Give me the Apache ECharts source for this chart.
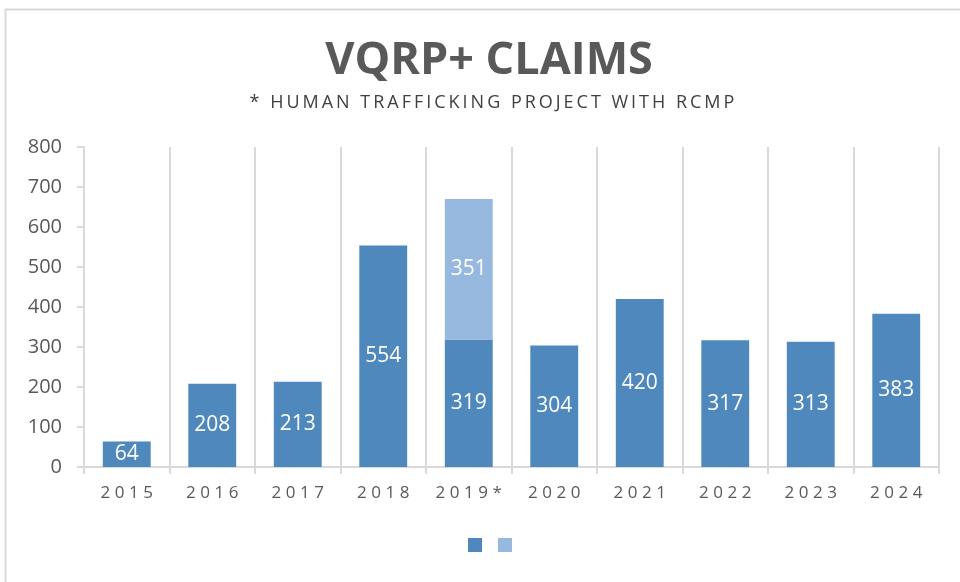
<!DOCTYPE html>
<html>
<head>
<meta charset="utf-8">
<script src="https://cdn.jsdelivr.net/npm/echarts@6/dist/echarts.min.js"></script>
<style>
html,body{margin:0;padding:0;background:#fff;}
#chart{width:960px;height:582px;}
</style>
</head>
<body>
<div id="chart"></div>
<script>
// data
var years = ["2015", "2016", "2017", "2018", "2019*", "2020", "2021", "2022", "2023", "2024"];
var claims = [64, 208, 213, 554, 319, 304, 420, 317, 313, 383];
var trafficking = ["-", "-", "-", "-", 351, "-", "-", "-", "-", "-"];
var yTicks = [0, 100, 200, 300, 400, 500, 600, 700, 800];

function spaced(s, sep) {
    return s.split("").join(sep);
}

var chart = echarts.init(document.getElementById("chart"));
var option = {
    animation: false,
    graphic: [{
        type: "polyline",
        shape: { points: [[5.5, 582], [5.5, 9.5], [960, 9.5]] },
        style: { stroke: "#d9d9d9", lineWidth: 2, fill: null }
    }],
    title: [{
        text: "VQRP+ CLAIMS",
        left: 484,
        top: 34,
        textAlign: "center",
        textStyle: { fontFamily: "Open Sans", fontWeight: "bold", fontSize: 45, color: "#595959" }
    }, {
        text: spaced("* HUMAN TRAFFICKING PROJECT WITH RCMP", "\u2009"),
        left: 487,
        top: 89,
        textAlign: "center",
        textStyle: { fontFamily: "Open Sans", fontWeight: "normal", fontSize: 18, color: "#404040" }
    }],
    legend: {
        bottom: 25,
        left: 463,
        icon: "rect",
        itemWidth: 14,
        itemHeight: 14,
        itemGap: 16,
        formatter: function () { return ""; },
        data: ["VQRP+", "Human trafficking"]
    },
    grid: { left: 84, right: 21, top: 147, bottom: 115 },
    xAxis: {
        type: "category",
        data: years,
        axisLine: { lineStyle: { color: "#d9d9d9", width: 2 } },
        axisTick: { show: true, interval: 0, length: 7, lineStyle: { color: "#d9d9d9", width: 2 } },
        splitLine: { show: true, interval: 0, lineStyle: { color: "#d9d9d9", width: 2 } },
        axisLabel: {
            interval: 0,
            margin: 18,
            fontFamily: "Open Sans",
            fontSize: 17,
            color: "#595959",
            formatter: function (v) { return spaced(v, "\u2009\u200A"); }
        }
    },
    yAxis: {
        type: "value",
        min: yTicks[0],
        max: yTicks[yTicks.length - 1],
        interval: 100,
        axisLine: { show: true, lineStyle: { color: "#d9d9d9", width: 2 } },
        axisTick: { show: true, length: 7, lineStyle: { color: "#d9d9d9", width: 2 } },
        splitLine: { show: false },
        axisLabel: { margin: 22, fontFamily: "Open Sans", fontSize: 20, color: "#595959" }
    },
    series: [{
        name: "VQRP+",
        type: "bar",
        stack: "total",
        barWidth: "56%",
        data: claims,
        itemStyle: { color: "#4f88bd" },
        label: { show: true, position: "inside", color: "#fff", fontFamily: "Open Sans", fontSize: 21 }
    }, {
        name: "Human trafficking",
        type: "bar",
        stack: "total",
        barWidth: "56%",
        data: trafficking,
        itemStyle: { color: "#97b9e0" },
        label: { show: true, position: "inside", color: "#fff", fontFamily: "Open Sans", fontSize: 21 }
    }]
};
chart.setOption(option);
</script>
</body>
</html>
